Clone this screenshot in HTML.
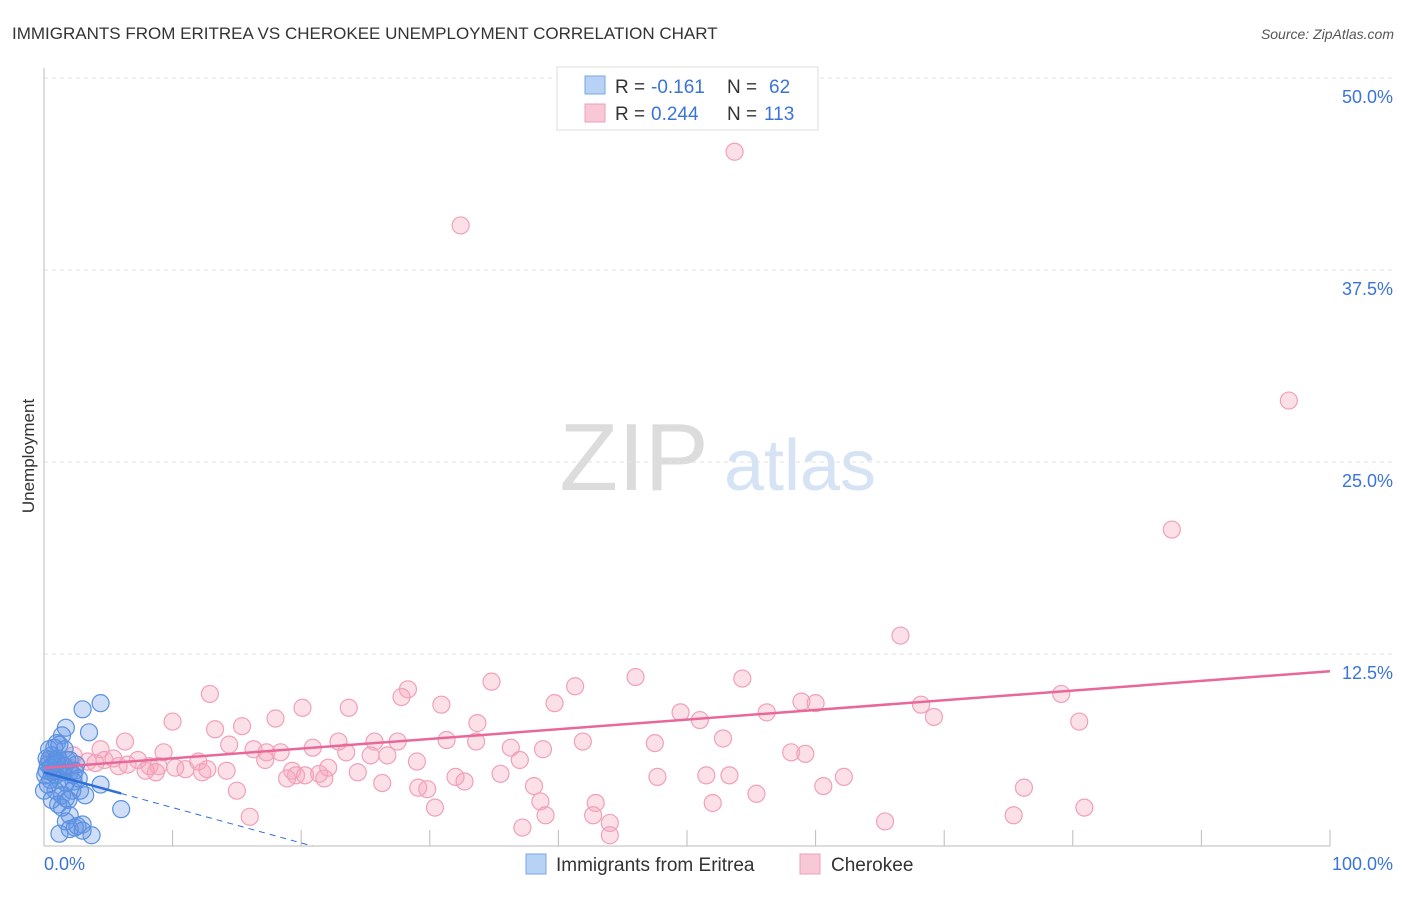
<!DOCTYPE html>
<html><head><meta charset="utf-8"><style>
body{margin:0;background:#fff;font-family:"Liberation Sans",sans-serif;}
svg text{font-family:"Liberation Sans",sans-serif;}
</style></head><body>
<svg id="chart" width="1406" height="892" viewBox="0 0 1406 892">
<text x="12" y="39" font-size="17" fill="#333">IMMIGRANTS FROM ERITREA VS CHEROKEE UNEMPLOYMENT CORRELATION CHART</text>
<text x="1394" y="39" font-size="14" fill="#555" font-style="italic" text-anchor="end">Source: ZipAtlas.com</text>
<text transform="translate(34,456) rotate(-90)" font-size="17" fill="#333" text-anchor="middle">Unemployment</text>
<g>
<text x="634" y="490" font-size="96" fill="#dcdcdc" text-anchor="middle" font-family="Liberation Serif,serif">ZIP</text>
<text x="800" y="490" font-size="72" fill="#d5e3f5" text-anchor="middle">atlas</text>
</g>
<g id="grid"></g>
<g id="marks"></g>
<g>
<rect x="557" y="67" width="261" height="63" fill="#fff" stroke="#ddd"/>
<rect x="585" y="76" width="20" height="18" fill="#b8d2f5" stroke="#7aa6e6"/>
<text x="615" y="93" font-size="19" fill="#333">R =</text>
<text x="651" y="93" font-size="19" fill="#3a74d9">-0.161</text>
<text x="727" y="93" font-size="19" fill="#333">N =</text>
<text x="769" y="93" font-size="19" fill="#3a74d9">62</text>
<rect x="585" y="104" width="20" height="18" fill="#f9c8d6" stroke="#f0a0b8"/>
<text x="615" y="120" font-size="19" fill="#333">R =</text>
<text x="651" y="120" font-size="19" fill="#3a74d9">0.244</text>
<text x="727" y="120" font-size="19" fill="#333">N =</text>
<text x="764" y="120" font-size="19" fill="#3a74d9">113</text>
</g>
<g>
<rect x="526" y="854" width="20" height="20" fill="#b8d2f5" stroke="#7aa6e6"/>
<text x="556" y="871" font-size="19" fill="#333">Immigrants from Eritrea</text>
<rect x="800" y="854" width="20" height="20" fill="#f9c8d6" stroke="#f0a0b8"/>
<text x="831" y="871" font-size="19" fill="#333">Cherokee</text>
</g>
</svg>
<script>
const yTicks=[12.5,25,37.5,50];
const yTickLabels=["12.5%","25.0%","37.5%","50.0%"];
const xTicks=[0,10,20,30,40,50,60,70,80,90,100];
const pinkX=[53.7,32.4,96.8,87.7,66.6,12.9,28.3,34.8,41.3,46.0,54.3,79.1,80.5,10.0,13.3,15.4,18.0,20.1,23.7,27.8,30.9,33.7,39.7,49.5,51.0,56.2,58.9,60.0,68.2,69.2,6.3,9.3,14.4,16.3,17.3,20.9,22.9,25.7,27.5,31.3,33.6,36.3,38.8,41.9,47.5,52.8,58.1,59.2,4.4,2.3,3.4,4.7,5.8,7.3,8.2,8.9,10.2,11.0,12.0,12.3,14.2,17.2,18.4,19.3,19.6,21.4,22.1,23.5,24.4,25.4,26.7,29.0,18.9,20.3,21.8,32.0,32.7,35.5,38.1,38.6,42.9,47.7,51.5,53.3,55.4,60.6,62.2,76.2,80.9,75.4,65.4,44.0,42.7,52.0,37.2,30.4,16.0,15.0,29.8,29.1,26.3,12.7,8.7,5.4,1.2,0.5,2.0,4.0,6.5,7.9,37.0,44.0,39.0];
const pinkY=[45.2,40.4,29.0,20.6,13.7,9.9,10.2,10.7,10.4,11.0,10.9,9.9,8.1,8.1,7.6,7.8,8.3,9.0,9.0,9.7,9.2,8.0,9.3,8.7,8.2,8.7,9.4,9.3,9.2,8.4,6.8,6.1,6.6,6.3,6.1,6.4,6.8,6.8,6.8,6.9,6.8,6.4,6.3,6.8,6.7,7.0,6.1,6.0,6.3,5.9,5.5,5.6,5.2,5.6,5.2,5.2,5.1,5.0,5.5,4.8,4.9,5.6,6.1,4.9,4.6,4.7,5.1,6.1,4.8,5.9,5.9,5.5,4.4,4.6,4.4,4.5,4.2,4.7,3.9,2.9,2.8,4.5,4.6,4.6,3.4,3.9,4.5,3.8,2.5,2.0,1.6,1.5,2.0,2.8,1.2,2.5,1.9,3.6,3.7,3.8,4.1,5.0,4.8,5.7,4.9,5.5,5.1,5.4,5.3,4.9,5.6,0.7,2.0];
const blueX=[4.4,3.0,3.5,1.7,1.4,1.0,1.6,0.4,0.6,0.9,0.3,0.7,1.1,1.5,2.0,2.3,0.1,0.5,1.2,1.7,2.2,2.8,3.2,0.9,1.4,1.9,1.1,0.6,0.0,4.4,6.0,2.0,1.7,2.0,2.4,3.0,1.2,3.7,2.6,0.4,0.7,0.2,1.8,2.4,0.9,1.4,2.3,0.2,0.8,1.1,1.6,0.3,1.7,1.4,3.0,0.6,2.0,2.5,1.2,0.5,1.0,2.7];
const blueY=[9.3,8.9,7.4,7.7,7.2,6.7,6.3,6.3,5.9,5.6,5.3,4.9,4.9,4.8,4.8,4.6,4.6,4.3,4.3,4.1,3.6,3.6,3.3,3.6,3.3,3.0,2.7,3.0,3.6,4.0,2.4,2.0,1.6,1.1,1.2,1.4,0.8,0.7,1.3,5.6,5.3,4.9,5.6,4.9,4.6,5.3,4.2,5.7,6.4,5.7,5.2,4.0,3.1,2.5,1.0,4.8,5.6,5.3,6.6,5.1,5.4,4.4];
const pinkTrend=[5.08,0.063];
const blueTrend=[4.8,-0.23];
const X=v=>44+v*12.86, Y=v=>846-v*15.36;
const NS="http://www.w3.org/2000/svg";
function mk(p,t,a){const e=document.createElementNS(NS,t);for(const k in a)e.setAttribute(k,a[k]);p.appendChild(e);return e;}
const g=document.getElementById('grid'), m=document.getElementById('marks');
yTicks.forEach((t,i)=>{
 const l=mk(g,'line',{x1:44,x2:1394,y1:Y(t),y2:Y(t),stroke:'#e2e2e2','stroke-dasharray':'4,4'});
 
 
 const tx=mk(g,'text',{x:1393,y:Y(t)+25,'font-size':18,fill:'#3a74d9','text-anchor':'end'});
 tx.textContent=yTickLabels[i];
 
 
});
const ax=mk(g,'line',{x1:44,x2:44,y1:68,y2:846,stroke:'#bbb'});


const bx=mk(g,'line',{x1:44,x2:1330,y1:846,y2:846,stroke:'#bbb'});


xTicks.forEach(t=>{const l=mk(g,'line',{x1:X(t),x2:X(t),y1:846,y2:830,stroke:'#bbb'});
 
 });
const x0=mk(g,'text',{x:44,y:870,'font-size':18,fill:'#3a74d9'});x0.textContent='0.0%';


const x1=mk(g,'text',{x:1393,y:870,'font-size':18,fill:'#3a74d9','text-anchor':'end'});x1.textContent='100.0%';


pinkX.forEach((v,i)=>{const c=mk(m,'circle',{cx:X(v),cy:Y(pinkY[i]),r:8.5,fill:'rgba(245,165,190,0.35)',stroke:'#f0a0b8','stroke-width':1.2});
 
 });
blueX.forEach((v,i)=>{const c=mk(m,'circle',{cx:X(v),cy:Y(blueY[i]),r:8.5,fill:'rgba(100,150,230,0.3)',stroke:'#5a90e0','stroke-width':1.2});
 
 });
const pl=mk(m,'line',{x1:X(0),y1:Y(pinkTrend[0]),x2:X(100),y2:Y(pinkTrend[0]+pinkTrend[1]*100),stroke:'#e8689a','stroke-width':2.5});


const bl=mk(m,'line',{x1:X(0),y1:Y(blueTrend[0]),x2:X(6),y2:Y(blueTrend[0]+blueTrend[1]*6),stroke:'#2f6fd8','stroke-width':2.5});


const xe=-blueTrend[0]/blueTrend[1];
const bd=mk(m,'line',{x1:X(6),y1:Y(blueTrend[0]+blueTrend[1]*6),x2:X(xe),y2:Y(0),stroke:'#2f6fd8','stroke-width':1,'stroke-dasharray':'6,5'});


</script>
</body></html>
